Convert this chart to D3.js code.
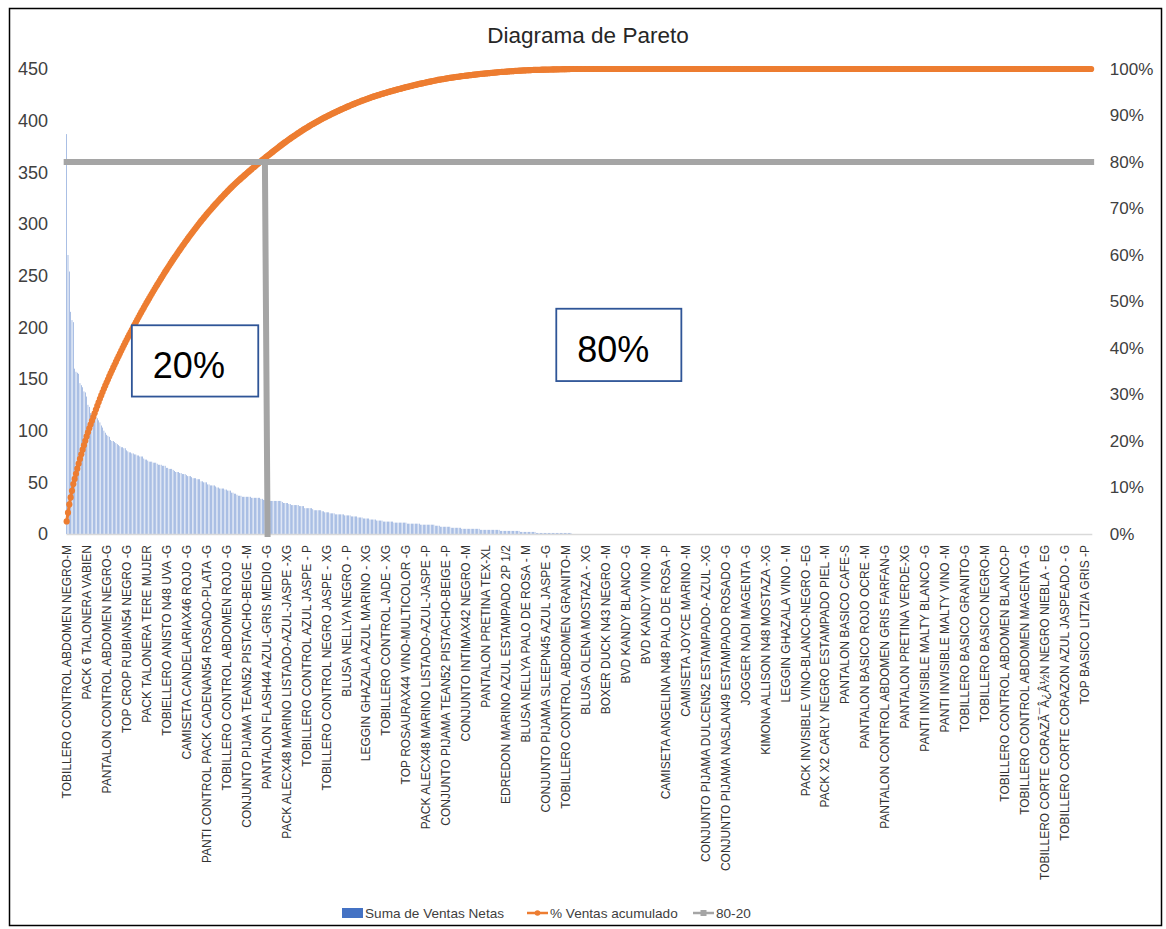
<!DOCTYPE html>
<html>
<head>
<meta charset="utf-8">
<script src="https://cdn.jsdelivr.net/npm/d3@7/dist/d3.min.js"></script>
<style>
  html, body { margin: 0; padding: 0; background: #fff; }
  svg { display: block; font-family: "Liberation Sans", Arial, sans-serif; }
</style>
</head>
<body>
<svg id="chart" width="1166" height="929"></svg>
<script>
// Net sales per product, sorted descending, stored as [value, number of consecutive products]
const ventasRuns = [
  [387,1],[270,1],[254,1],[215,1],[207,1],[205,1],
  [160,1],[157,1],[156,1],[155,1],
  [146,1],[144,1],[142,1],
  [138,1],[137,1],[133,1],
  [125,1],[123,1],
  [117,2],[116,1],[115,1],[114,1],[112,1],
  [110,1],[108,1],[105,1],[103,1],
  [100,1],[98,1],[96,1],[95,1],[94,1],
  [91,1],[90,2],[89,1],[88,1],[87,1],
  [86,1],[85,1],[84,2],[83,2],
  [81,1],[80,1],[79,2],[78,2],[77,2],
  [76,2],[75,3],
  [73,1],[72,2],[71,1],
  [70,3],[69,3],
  [68,1],[67,3],[66,3],
  [64,2],[63,3],[62,1],
  [61,1],[60,3],
  [59,2],[58,3],[57,1],
  [56,3],[55,1],
  [54,3],[53,3],
  [51,2],[50,3],
  [48,2],[47,4],[46,1],
  [45,2],[44,4],[43,2],
  [42,3],
  [40,2],[39,2],[38,1],
  [37,3],[36,7],[35,7],[34,2],
  [33,5],
  [32,9],
  [31,1],[30,4],
  [29,2],[28,6],[27,4],
  [25,6],
  [24,1],[23,6],[22,2],
  [21,4],[20,4],
  [19,7],
  [18,5],[17,5],
  [16,4],[15,5],
  [14,5],[13,5],
  [12,8],[11,10],
  [10,10],[9,11],
  [8,4],[7,8],
  [6,8],[5,14],
  [4,15],[3,15],
  [2,12],[1,27],
  [0,391]
];

// Every 15th product name is printed on the category axis
const labelStep = 15;
const productLabels = [
  "TOBILLERO CONTROL ABDOMEN NEGRO-M",
  "PACK 6 TALONERA VABIEN",
  "PANTALON CONTROL ABDOMEN NEGRO-G",
  "TOP CROP RUBIAN54 NEGRO -G",
  "PACK TALONERA TERE MUJER",
  "TOBIELLERO ANISTO N48 UVA -G",
  "CAMISETA CANDELARIAX46 ROJO -G",
  "PANTI CONTROL PACK CADENAN54 ROSADO-PLATA -G",
  "TOBILLERO CONTROL ABDOMEN ROJO -G",
  "CONJUNTO PIJAMA TEAN52 PISTACHO-BEIGE -M",
  "PANTALON FLASH44 AZUL-GRIS MEDIO -G",
  "PACK ALECX48 MARINO LISTADO-AZUL-JASPE -XG",
  "TOBILLERO CONTROL AZUL JASPE - P",
  "TOBILLERO CONTROL NEGRO JASPE - XG",
  "BLUSA NELLYA NEGRO - P",
  "LEGGIN GHAZALA AZUL MARINO - XG",
  "TOBILLERO CONTROL JADE - XG",
  "TOP ROSAURAX44 VINO-MULTICOLOR -G",
  "PACK ALECX48 MARINO LISTADO-AZUL-JASPE -P",
  "CONJUNTO PIJAMA TEAN52 PISTACHO-BEIGE -P",
  "CONJUNTO INTIMAX42 NEGRO -M",
  "PANTALON PRETINA TEX-XL",
  "EDREDON MARINO AZUL ESTAMPADO 2P 1/2",
  "BLUSA NELLYA PALO DE ROSA - M",
  "CONJUNTO PIJAMA SLEEPN45 AZUL JASPE -G",
  "TOBILLERO CONTROL ABDOMEN GRANITO-M",
  "BLUSA OLENA MOSTAZA - XG",
  "BOXER DUCK N43 NEGRO -M",
  "BVD KANDY BLANCO -G",
  "BVD KANDY VINO -M",
  "CAMISETA ANGELINA N48 PALO DE ROSA -P",
  "CAMISETA JOYCE MARINO -M",
  "CONJUNTO PIJAMA DULCEN52 ESTAMPADO- AZUL -XG",
  "CONJUNTO PIJAMA NASLAN49 ESTAMPADO ROSADO -G",
  "JOGGER NADI MAGENTA -G",
  "KIMONA ALLISON N48 MOSTAZA -XG",
  "LEGGIN GHAZALA VINO - M",
  "PACK INVISIBLE VINO-BLANCO-NEGRO -EG",
  "PACK X2 CARLY NEGRO ESTAMPADO PIEL -M",
  "PANTALON BASICO CAFE-S",
  "PANTALON BASICO ROJO OCRE -M",
  "PANTALON CONTROL ABDOMEN GRIS FARFAN-G",
  "PANTALON PRETINA VERDE-XG",
  "PANTI INVISIBLE MALTY BLANCO -G",
  "PANTI INVISIBLE MALTY VINO -M",
  "TOBILLERO BASICO GRANITO-G",
  "TOBILLERO BASICO NEGRO-M",
  "TOBILLERO CONTROL ABDOMEN BLANCO-P",
  "TOBILLERO CONTROL ABDOMEN MAGENTA -G",
  "TOBILLERO CORTE CORAZÃ¯Â¿Â½N NEGRO NIEBLA - EG",
  "TOBILLERO CORTE CORAZON AZUL JASPEADO - G",
  "TOP BASICO LITZIA GRIS -P"
];

// 80-20 reference line: [product index, cumulative share]
const corteHorizontal = [[0, 0.8], [770, 0.8]];
const corteVertical = [[149, 0.8], [151, 0]];

const leftTicks = [0, 50, 100, 150, 200, 250, 300, 350, 400, 450];
const rightTicks = [0, 0.1, 0.2, 0.3, 0.4, 0.5, 0.6, 0.7, 0.8, 0.9, 1];

// Annotation boxes anchored in data space (product index range, value range)
const notes = [
  { text: "20%", i0: 49, i1: 144, top: 202, bottom: 133 },
  { text: "80%", i0: 368, i1: 462, top: 218, bottom: 148 }
];

const legendItems = [
  { key: "bar", label: "Suma de Ventas Netas" },
  { key: "acum", label: "% Ventas acumulado" },
  { key: "corte", label: "80-20" }
];

// ---- expand runs into one value per product ----
const ventas = [];
ventasRuns.forEach(([v, n]) => { for (let k = 0; k < n; k++) ventas.push(v); });
const N = ventas.length;
const total = d3.sum(ventas);
const acumulado = d3.cumsum(ventas).map(s => s / total);

const COLORS = { bar: "#4472c4", acum: "#ed7d31", corte: "#a5a5a5", text: "#404040" };

const svg = d3.select("#chart");
svg.append("rect").attr("width", 1166).attr("height", 929).attr("fill", "#fff");

const plot = { left: 66, right: 1091.8, top: 69, bottom: 534 };

const x = d3.scaleBand()
  .domain(d3.range(N))
  .range([plot.left, plot.right])
  .paddingInner(0.6)
  .paddingOuter(0.3);
const cx = i => x(i) + x.bandwidth() / 2;

const yVal = d3.scaleLinear().domain([0, 450]).range([plot.bottom, plot.top]);
const yPct = d3.scaleLinear().domain([0, 1]).range([plot.bottom, plot.top]);

// title
svg.append("text")
  .attr("x", 588).attr("y", 43)
  .attr("text-anchor", "middle")
  .attr("font-size", 22.5)
  .attr("fill", "#262626")
  .text("Diagrama de Pareto");

// bars
svg.append("g").selectAll("rect")
  .data(ventas)
  .join("rect")
  .attr("x", (d, i) => x(i))
  .attr("width", x.bandwidth())
  .attr("y", d => yVal(d))
  .attr("height", d => yVal(0) - yVal(d))
  .attr("fill", COLORS.bar)
  .attr("fill-opacity", 0.85);

// category axis
const xAxis = d3.axisBottom(x)
  .tickValues(productLabels.map((_, k) => k * labelStep))
  .tickFormat(i => productLabels[i / labelStep])
  .tickSize(0);
const gx = svg.append("g")
  .attr("transform", `translate(0,${plot.bottom})`)
  .call(xAxis);
gx.select(".domain").attr("stroke", "#d9d9d9").attr("stroke-width", 1.3);
gx.selectAll("text")
  .attr("transform", "rotate(-90)")
  .attr("text-anchor", "end")
  .attr("x", -11)
  .attr("y", 0)
  .attr("dy", "0.35em")
  .attr("font-size", 12)
  .attr("font-family", "Liberation Sans, Arial, sans-serif")
  .attr("fill", "#333");

// left value axis
const gy = svg.append("g")
  .attr("transform", `translate(${plot.left},0)`)
  .call(d3.axisLeft(yVal).tickValues(leftTicks).tickSize(0).tickPadding(18));
gy.select(".domain").remove();
gy.selectAll("text")
  .attr("font-size", 18)
  .attr("font-family", "Liberation Sans, Arial, sans-serif")
  .attr("fill", COLORS.text);

// right percentage axis
const gr = svg.append("g")
  .attr("transform", `translate(${plot.right},0)`)
  .call(d3.axisRight(yPct).tickValues(rightTicks).tickFormat(d3.format(".0%")).tickSize(0).tickPadding(18));
gr.select(".domain").remove();
gr.selectAll("text")
  .attr("font-size", 17)
  .attr("font-family", "Liberation Sans, Arial, sans-serif")
  .attr("fill", COLORS.text);

// cumulative percentage line with markers
const lineAcum = d3.line().x((d, i) => cx(i)).y(d => yPct(d));
svg.append("path")
  .datum(acumulado)
  .attr("d", lineAcum)
  .attr("fill", "none")
  .attr("stroke", COLORS.acum)
  .attr("stroke-width", 3)
  .attr("stroke-linejoin", "round");
svg.append("g").selectAll("circle")
  .data(acumulado)
  .join("circle")
  .attr("cx", (d, i) => cx(i))
  .attr("cy", d => yPct(d))
  .attr("r", 3.1)
  .attr("fill", COLORS.acum);

// 80-20 reference lines
const lineCorte = d3.line().x(d => cx(d[0])).y(d => yPct(d[1]));
[corteHorizontal, corteVertical].forEach(pts => {
  svg.append("path")
    .datum(pts)
    .attr("d", lineCorte)
    .attr("fill", "none")
    .attr("stroke", COLORS.corte)
    .attr("stroke-width", 6)
    .attr("stroke-linecap", "square");
});

// annotation boxes
notes.forEach(n => {
  const bx = cx(n.i0), bw = cx(n.i1) - cx(n.i0);
  const by = yVal(n.top), bh = yVal(n.bottom) - yVal(n.top);
  svg.append("rect")
    .attr("x", bx).attr("y", by).attr("width", bw).attr("height", bh)
    .attr("fill", "#fff")
    .attr("stroke", "#2f5597")
    .attr("stroke-width", 1.8);
  svg.append("text")
    .attr("x", bx + 21).attr("y", by + bh * 0.74)
    .attr("font-size", 36)
    .attr("fill", "#000")
    .text(n.text);
});

// legend
const lg = svg.append("g").attr("font-size", 13.6).attr("fill", COLORS.text);
const legendX = { bar: 342, acum: 527, corte: 693 };
legendItems.forEach(it => {
  const lx = legendX[it.key];
  const ly = 913;
  if (it.key === "bar") {
    lg.append("rect").attr("x", lx).attr("y", ly - 5).attr("width", 21).attr("height", 10).attr("fill", COLORS.bar);
  } else if (it.key === "acum") {
    lg.append("line").attr("x1", lx).attr("x2", lx + 21).attr("y1", ly).attr("y2", ly)
      .attr("stroke", COLORS.acum).attr("stroke-width", 2.5);
    lg.append("circle").attr("cx", lx + 10.5).attr("cy", ly).attr("r", 2.8).attr("fill", COLORS.acum);
  } else {
    lg.append("line").attr("x1", lx).attr("x2", lx + 21).attr("y1", ly).attr("y2", ly)
      .attr("stroke", COLORS.corte).attr("stroke-width", 2.5);
    lg.append("rect").attr("x", lx + 7.5).attr("y", ly - 3).attr("width", 6).attr("height", 6).attr("fill", COLORS.corte);
  }
  lg.append("text").attr("x", lx + 23).attr("y", ly).attr("dy", "0.35em").text(it.label);
});

// outer frame
svg.append("rect")
  .attr("x", 9.5).attr("y", 8.5).attr("width", 1152).attr("height", 917)
  .attr("fill", "none").attr("stroke", "#000").attr("stroke-width", 1.5);
</script>
</body>
</html>
